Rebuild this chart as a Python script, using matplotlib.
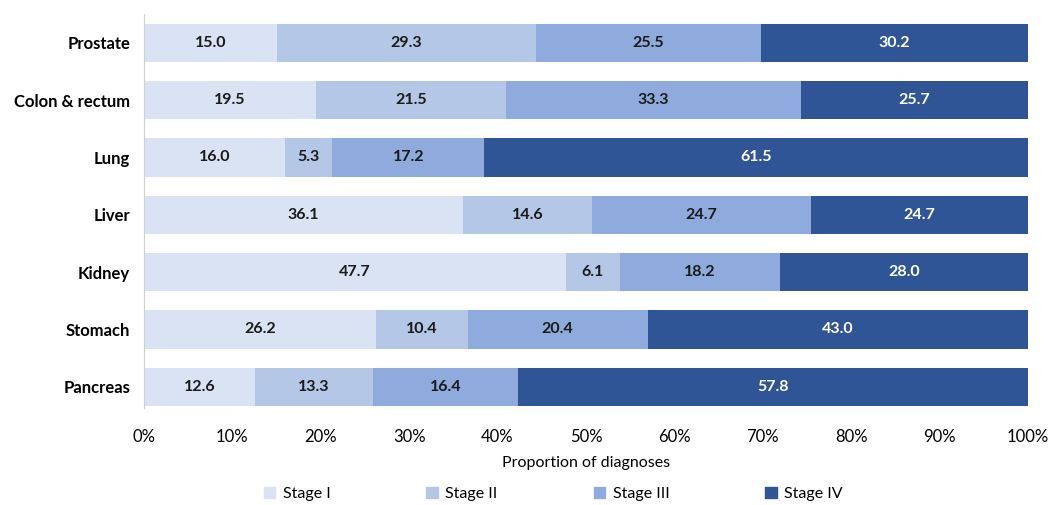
import matplotlib
matplotlib.use("Agg")
import matplotlib.pyplot as plt
from matplotlib.patches import Patch

plt.rcParams['font.family'] = ['Lato', 'DejaVu Sans']

cancers = ["Prostate", "Colon & rectum", "Lung", "Liver", "Kidney", "Stomach", "Pancreas"]
stages = ["Stage I", "Stage II", "Stage III", "Stage IV"]
stage1 = [15.0, 19.5, 16.0, 36.1, 47.7, 26.2, 12.6]
stage2 = [29.3, 21.5, 5.3, 14.6, 6.1, 10.4, 13.3]
stage3 = [25.5, 33.3, 17.2, 24.7, 18.2, 20.4, 16.4]
stage4 = [30.2, 25.7, 61.5, 24.7, 28.0, 43.0, 57.8]
colors = ["#DAE3F3", "#B4C7E7", "#8FAADC", "#2F5597"]
text_colors = ["#1a1a1a", "#1a1a1a", "#1a1a1a", "white"]

fig = plt.figure(figsize=(10.54, 5.05), dpi=100)
ax = fig.add_axes([0.1366, 0.192, 0.8387, 0.780])

ypos = list(range(len(cancers)))
left = [0.0] * len(cancers)
for vals, c, tc in zip([stage1, stage2, stage3, stage4], colors, text_colors):
    ax.barh(ypos, vals, left=left, height=0.67, color=c)
    for i, v in enumerate(vals):
        ax.text(left[i] + v / 2, i, f"{v:.1f}", ha="center", va="center",
                fontsize=11.5, fontweight="bold", color=tc)
    left = [l + v for l, v in zip(left, vals)]

ax.set_ylim(6.37, -0.5)
ax.set_xlim(0, 100)
ax.set_yticks(ypos)
ax.set_yticklabels(cancers, fontsize=12, fontweight="bold")
ax.set_xticks(range(0, 101, 10))
ax.set_xticklabels([f"{t}%" for t in range(0, 101, 10)], fontsize=12)
ax.tick_params(length=0, pad=10)
ax.tick_params(axis="x", pad=15)
ax.set_xlabel("Proportion of diagnoses", fontsize=11.5, labelpad=8)
for s in ["top", "right", "bottom"]:
    ax.spines[s].set_visible(False)
ax.spines["left"].set_color("#d0d0d0")

handles = [Patch(color=c) for c in colors]
fig.legend(handles, stages, loc="lower center", bbox_to_anchor=(0.525, -0.02), ncol=4,
           frameon=False, fontsize=11.5, handlelength=0.7, handleheight=0.7,
           columnspacing=6.0, handletextpad=0.5)

fig.savefig("out.png", dpi=100)
